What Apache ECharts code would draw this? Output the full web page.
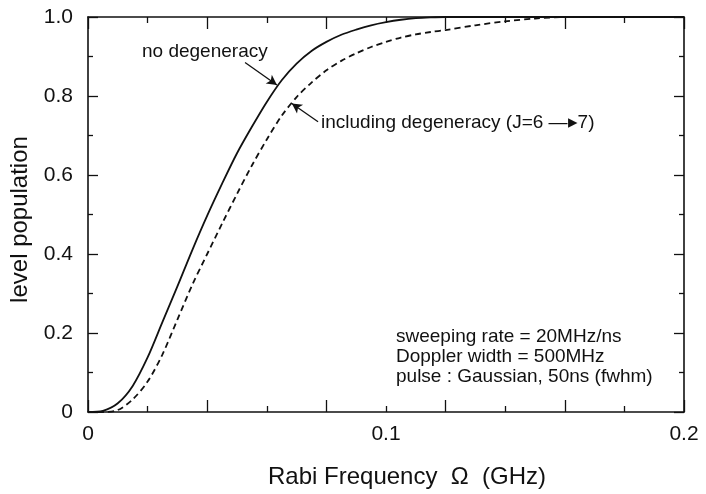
<!DOCTYPE html>
<html>
<head>
<meta charset="utf-8">
<script src="https://cdn.jsdelivr.net/npm/echarts@6/dist/echarts.min.js"></script>
<style>
  html, body { margin: 0; padding: 0; background: #fff; }
  #chart { width: 706px; height: 494px; }
</style>
</head>
<body>
<div id="chart"></div>
<script>
// Rabi frequency (GHz)
const rabiFreq = [0, 0.005, 0.01, 0.015, 0.02, 0.025, 0.03, 0.035, 0.04, 0.045,
  0.05, 0.055, 0.06, 0.065, 0.07, 0.075, 0.08, 0.085, 0.09, 0.095,
  0.10, 0.105, 0.11, 0.115, 0.12, 0.13, 0.14, 0.15, 0.16, 0.18, 0.2];

// level population, no degeneracy (solid)
const noDegeneracy = [0, 0.003, 0.022, 0.066, 0.138, 0.228, 0.318, 0.41, 0.497, 0.578,
  0.655, 0.722, 0.785, 0.84, 0.882, 0.914, 0.937, 0.955, 0.968, 0.979,
  0.987, 0.993, 0.997, 0.999, 1.0, 1.0, 1.0, 1.0, 1.0, 1.0, 1.0];

// level population, including degeneracy J=6 -> 7 (dashed)
const withDegeneracy = [0, 0, 0.005, 0.032, 0.077, 0.146, 0.234, 0.322, 0.40, 0.477,
  0.552, 0.624, 0.69, 0.75, 0.797, 0.834, 0.865, 0.889, 0.908, 0.924,
  0.937, 0.948, 0.956, 0.962, 0.967, 0.979, 0.989, 0.996, 1.0, 1.0, 1.0];

const xTickLabels = [0, 0.1, 0.2];
const yTickLabels = [0, 0.2, 0.4, 0.6, 0.8, 1.0];

// arrow annotations: [from, to] in data coordinates
const arrowNoDeg = [[0.0527, 0.885], [0.0634, 0.828]];
const arrowWithDeg = [[0.0772, 0.735], [0.0684, 0.781]];

const FONT = '"Liberation Sans", Arial, Helvetica, sans-serif';
const INK = '#111';

function pairs(xs, ys) { return xs.map((x, i) => [x, ys[i]]); }

const tickAxisX = (position) => ({
  type: 'value', min: 0, max: 0.2, interval: 0.04, position: position,
  axisLine: { show: true, onZero: false, lineStyle: { color: INK, width: 1.6 } },
  axisTick: { show: true, inside: true, length: 12, lineStyle: { color: INK, width: 1.3 } },
  minorTick: { show: true, splitNumber: 2, length: 6, lineStyle: { color: INK, width: 1.3 } },
  axisLabel: { show: false }, splitLine: { show: false }, minorSplitLine: { show: false }
});

const tickAxisY = (position, labels) => ({
  type: 'value', min: 0, max: 1, interval: 0.2, position: position,
  axisLine: { show: true, onZero: false, lineStyle: { color: INK, width: 1.6 } },
  axisTick: { show: true, inside: true, length: 10, lineStyle: { color: INK, width: 1.3 } },
  minorTick: { show: true, splitNumber: 2, length: 5, lineStyle: { color: INK, width: 1.3 } },
  axisLabel: labels ? {
    show: true, fontFamily: FONT, fontSize: 21, color: INK, margin: 15,
    formatter: v => {
      const hit = yTickLabels.find(t => Math.abs(t - v) < 1e-9);
      if (hit === undefined) return '';
      return hit === 0 ? '0' : hit.toFixed(1);
    }
  } : { show: false },
  splitLine: { show: false }, minorSplitLine: { show: false }
});

const arrowMark = (from, to) => ({
  silent: true, symbol: ['none', 'arrow'], symbolSize: [8, 10],
  label: { show: false },
  emphasis: { disabled: true },
  lineStyle: { color: INK, width: 1.3, type: 'solid' },
  data: [[{ coord: from }, { coord: to }]]
});

const chart = echarts.init(document.getElementById('chart'), null, { renderer: 'canvas' });

chart.setOption({
  animation: false,
  backgroundColor: '#fff',
  grid: { left: 88, right: 22, top: 17, bottom: 82, containLabel: false },
  xAxis: [
    tickAxisX('bottom'),
    tickAxisX('top'),
    {
      type: 'value', min: 0, max: 0.2, interval: 0.1, position: 'bottom',
      axisLine: { show: false }, axisTick: { show: false }, splitLine: { show: false },
      axisLabel: {
        show: true, fontFamily: FONT, fontSize: 21, color: INK, margin: 12,
        formatter: v => {
          const hit = xTickLabels.find(t => Math.abs(t - v) < 1e-9);
          return hit === undefined ? '' : String(hit);
        }
      }
    }
  ],
  yAxis: [
    Object.assign(tickAxisY('left', true), {
      name: 'level population', nameLocation: 'middle', nameGap: 56,
      nameTextStyle: { fontFamily: FONT, fontSize: 24, color: INK, padding: [0, 10, 0, 0] }
    }),
    tickAxisY('right', false)
  ],
  graphic: [
    {
      type: 'text', left: 268, top: 465,
      style: { text: 'Rabi Frequency  \u03A9  (GHz)', font: '24px ' + FONT, fill: INK }
    },
    {
      type: 'text', left: 142, top: 42,
      style: { text: 'no degeneracy', font: '19px ' + FONT, fill: INK }
    },
    {
      type: 'text', left: 321, top: 113,
      style: { text: 'including degeneracy (J=6 \u2014\u25B87)', font: '19px ' + FONT, fill: INK }
    },
    {
      type: 'text', left: 396, top: 327,
      style: {
        text: 'sweeping rate = 20MHz/ns\nDoppler width = 500MHz\npulse : Gaussian, 50ns (fwhm)',
        font: '19px ' + FONT, fill: INK, lineHeight: 20
      }
    }
  ],
  series: [
    {
      name: 'no degeneracy', type: 'line', xAxisIndex: 0, yAxisIndex: 0,
      data: pairs(rabiFreq, noDegeneracy), smooth: 0.3, symbol: 'none',
      lineStyle: { color: INK, width: 1.8, type: 'solid' },
      markLine: arrowMark(arrowNoDeg[0], arrowNoDeg[1])
    },
    {
      name: 'including degeneracy', type: 'line', xAxisIndex: 0, yAxisIndex: 0,
      data: pairs(rabiFreq, withDegeneracy), smooth: 0.3, symbol: 'none',
      lineStyle: { color: INK, width: 1.8, type: [6, 4] },
      markLine: arrowMark(arrowWithDeg[0], arrowWithDeg[1])
    }
  ]
});
</script>
</body>
</html>
